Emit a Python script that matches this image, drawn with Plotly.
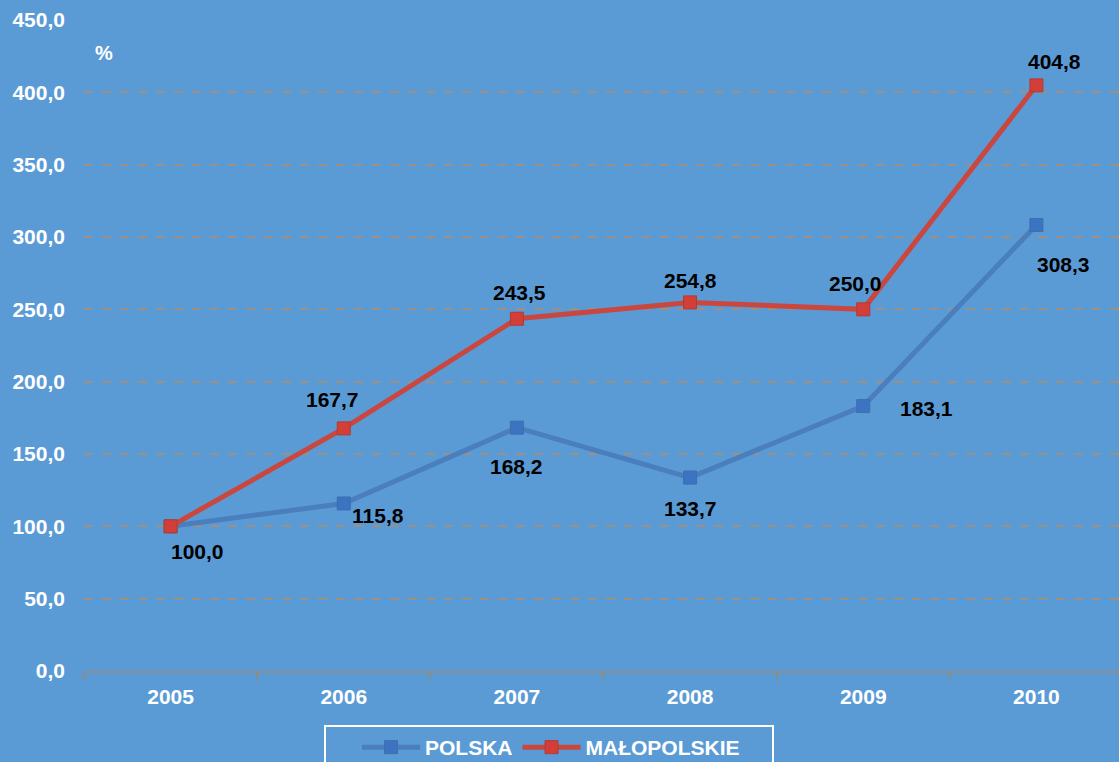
import plotly.graph_objects as go

years = ["2005", "2006", "2007", "2008", "2009", "2010"]
polska = [100.0, 115.8, 168.2, 133.7, 183.1, 308.3]
malopolskie = [100.0, 167.7, 243.5, 254.8, 250.0, 404.8]

# label offsets (pixels) for data labels
polska_shift = [None, (34, -12), (0, -39), (0, -31), (63, -2), (27, -40)]
malo_shift = [(27, -25), (-11, 29), (3, 26), (0, 22), (-8, 26), (18, 24)]

BG = "#5B9BD5"
BLUE = "#4A7EBD"
RED = "#C9473F"
FONT = "Liberation Sans, Arial"

def fmt(v):
    return f"{v:.1f}".replace(".", ",")

fig = go.Figure()
fig.add_trace(go.Scatter(x=years, y=polska, name="POLSKA", mode="lines+markers",
                         line=dict(color=BLUE, width=5),
                         marker=dict(symbol="square", size=13, color="#3C74C2",
                                     line=dict(color="#3E6FAE", width=1))))
fig.add_trace(go.Scatter(x=years, y=malopolskie, name="MAŁOPOLSKIE", mode="lines+markers",
                         line=dict(color=RED, width=5),
                         marker=dict(symbol="square", size=13, color="#D33F38",
                                     line=dict(color="#B23A33", width=1))))

lab_font = dict(family=FONT, size=21, color="black")
for i, v in enumerate(polska):
    s = polska_shift[i]
    if s is None:
        continue
    fig.add_annotation(x=i, y=v, text=f"<b>{fmt(v)}</b>", showarrow=False,
                       xshift=s[0], yshift=s[1], font=lab_font)
for i, v in enumerate(malopolskie):
    s = malo_shift[i]
    fig.add_annotation(x=i, y=v, text=f"<b>{fmt(v)}</b>", showarrow=False,
                       xshift=s[0], yshift=s[1], font=lab_font)

fig.add_annotation(xref="paper", yref="paper", x=(104 - 84) / 1035, y=(671 - 53) / 651,
                   xanchor="center", yanchor="middle",
                   text="<b>%</b>", showarrow=False,
                   font=dict(family=FONT, size=20, color="white"))

# legend frame
fig.add_shape(type="rect", xref="paper", yref="paper",
              x0=(325 - 84) / 1035, x1=(773 - 84) / 1035,
              y0=(671 - 775) / 651, y1=(671 - 726) / 651,
              line=dict(color="white", width=2), fillcolor="rgba(0,0,0,0)", layer="above")

fig.update_layout(
    width=1119, height=762,
    paper_bgcolor=BG, plot_bgcolor=BG,
    margin=dict(l=84, r=0, t=20, b=91),
    separators=", ",
    showlegend=True,
    legend=dict(orientation="h", xref="container", yref="container",
                x=551 / 1119, xanchor="center", y=1 - 727 / 762, yanchor="top",
                borderwidth=0, bgcolor="rgba(0,0,0,0)",
                font=dict(family=FONT, size=21, color="white", weight="bold"),
                itemwidth=58),
    xaxis=dict(type="category", range=[-0.5, 5.477], showgrid=False, showline=True,
               linecolor="#8C8C8C", linewidth=2, ticks="outside", tickson="boundaries",
               ticklen=7, tickcolor="#8C8C8C", tickwidth=2,
               tickfont=dict(family=FONT, size=21, color="white", weight="bold"),
               ticklabelstandoff=6),
    yaxis=dict(range=[0, 450], dtick=50, tickformat=".1f", showgrid=True,
               gridcolor="#9C8F86", griddash="dash", gridwidth=1.5,
               zeroline=False, showline=False, ticks="",
               tickfont=dict(family=FONT, size=21, color="white", weight="bold"),
               ticklabelstandoff=18),
)

fig.write_html("out.html", config={"displayModeBar": False},
               post_script="document.body.style.margin='0';")
